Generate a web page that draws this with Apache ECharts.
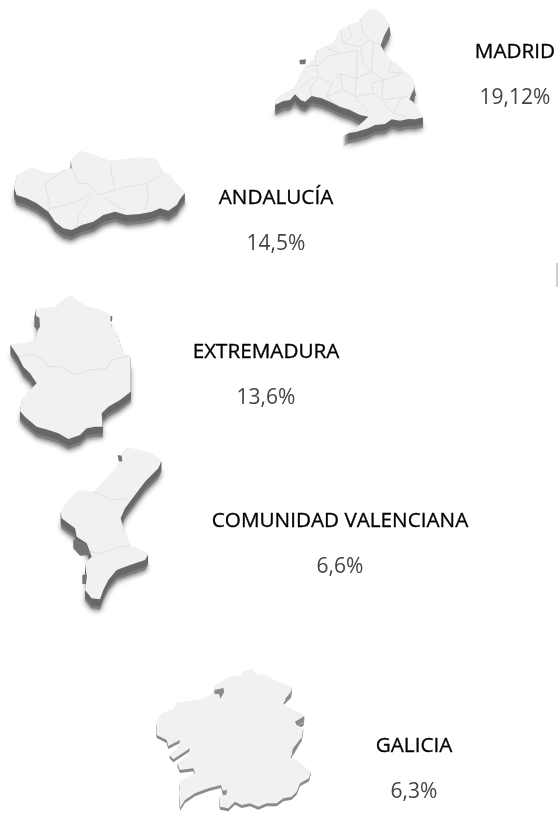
<!DOCTYPE html>
<html>
<head>
<meta charset="utf-8">
<style>html,body{margin:0;background:#fff}#chart{width:558px;height:813px;filter:blur(0.35px)}</style>
<script src="https://cdn.jsdelivr.net/npm/echarts@6/dist/echarts.min.js"></script>
</head>
<body>
<div id="chart"></div>
<script>
// values
const regionNames = ['MADRID', 'ANDALUCÍA', 'EXTREMADURA', 'COMUNIDAD VALENCIANA', 'GALICIA']
const percentages = [19.12, 14.5, 13.6, 6.6, 6.3]
const labelCenterX = [515, 276, 266, 340, 414]
const labelTop = [39, 185, 339, 508, 733]

// outlines traced on crops of the picture, px = origin + crop / 3
const madridOutline = [[45,315],[50,295],[70,280],[95,268],[112,250],[120,225],[135,200],[165,175],[170,150],[195,140],[225,125],[235,95],[265,75],[295,65],[310,45],[330,28],[350,28],[370,45],[385,70],[388,85],[375,110],[362,135],[375,160],[395,180],[415,195],[432,212],[450,225],[462,245],[463,270],[452,298],[470,320],[480,335],[490,352],[465,358],[445,357],[420,362],[395,358],[375,372],[345,375],[325,385],[290,395],[265,400],[248,408],[270,392],[295,378],[325,350],[300,345],[270,330],[240,320],[210,305],[185,295],[155,288],[135,305],[122,300],[105,283],[90,300],[70,303]]
const andaluciaOutline = [[42,143],[50,105],[70,95],[95,82],[130,95],[165,100],[190,90],[215,85],[212,60],[240,32],[270,40],[300,50],[330,62],[370,58],[420,52],[465,55],[478,72],[488,92],[510,105],[525,125],[545,145],[555,158],[540,178],[530,195],[505,212],[480,205],[455,215],[420,222],[380,225],[345,215],[310,225],[280,245],[245,255],[215,270],[190,265],[165,245],[145,215],[110,190],[80,175],[50,165]]
const extremaduraOutline = [[30,178],[70,175],[105,165],[115,130],[105,72],[165,65],[190,45],[212,30],[240,52],[265,65],[300,72],[330,90],[335,125],[355,150],[362,180],[370,205],[392,215],[392,320],[360,345],[325,365],[305,385],[308,425],[285,425],[260,430],[240,450],[205,462],[175,445],[145,435],[110,425],[75,395],[60,378],[65,345],[85,320],[110,295],[90,265],[70,245],[55,215]]
const valenciaOutline = [[230,22],[270,30],[305,40],[335,62],[325,85],[285,125],[255,165],[225,205],[212,235],[222,270],[240,315],[265,325],[295,343],[285,360],[240,375],[200,390],[175,420],[160,450],[150,478],[125,475],[105,450],[110,410],[105,370],[125,350],[110,310],[80,290],[75,265],[35,235],[32,215],[55,180],[85,150],[130,155],[170,115],[205,75],[215,40]]
const galiciaOutline = [[210,75],[225,68],[250,50],[285,45],[295,33],[325,28],[330,42],[360,45],[385,58],[415,70],[440,80],[438,105],[420,122],[415,130],[430,140],[445,150],[470,160],[478,170],[475,190],[455,195],[475,205],[470,235],[445,265],[437,295],[455,300],[480,320],[497,335],[492,355],[465,370],[455,395],[440,410],[415,415],[395,430],[365,430],[340,440],[315,430],[290,435],[270,425],[250,445],[225,440],[222,410],[235,400],[228,375],[190,385],[150,400],[120,420],[105,443],[102,400],[105,365],[150,340],[145,325],[105,330],[97,310],[130,285],[135,265],[85,298],[73,285],[100,262],[105,240],[70,258],[65,240],[35,225],[35,190],[50,160],[90,145],[95,128],[135,122],[170,118],[205,100]]

const madridBorders = [
    [[165,180],[175,230],[215,250],[240,220],[290,235],[335,215],[370,240],[430,220]],
    [[240,90],[250,130],[300,140],[330,120],[360,135]],
    [[215,250],[200,290],[240,320]],
    [[290,235],[285,290],[330,340]],
    [[370,240],[365,300],[400,340],[440,350]],
    [[190,140],[240,160],[290,150],[290,235]],
    [[120,260],[165,230]],
    [[335,215],[340,130]],
    [[300,55],[310,100],[330,120]],
    [[240,220],[250,270],[285,290],[340,280],[365,300],[440,290]],
    [[135,200],[180,195],[200,170],[240,160]],
    [[175,230],[150,265],[155,288]],
    [[200,290],[250,270]],
    [[300,140],[310,190],[335,215]],
    [[265,75],[275,110],[250,130]],
    [[340,280],[335,250],[370,240]],
    [[400,340],[420,300],[440,290],[462,270]],
    [[395,185],[385,215],[430,220]]
]
const andaluciaBorders = [
    [[145,215],[150,200],[143,165],[135,130],[165,110],[195,90]],
    [[150,205],[200,195],[240,180],[275,160]],
    [[230,265],[235,230],[255,195],[275,165]],
    [[215,85],[235,130],[265,130],[295,165],[330,155],[345,150]],
    [[330,62],[335,100],[345,150],[380,140],[440,130],[475,110],[488,92]],
    [[310,170],[330,185],[375,210]],
    [[440,130],[445,175],[435,210]]
]
const extremaduraBorders = [
    [[55,215],[95,208],[130,225],[145,245],[180,245],[225,268],[270,255],[320,250],[335,225],[375,215],[392,212]]
]
const valenciaBorders = [
    [[130,155],[165,170],[180,180],[215,178],[232,175]],
    [[120,335],[150,342],[180,330],[215,320],[240,318]]
]

// small dark wall pieces that show through the top face
const madridWalls = [[[388,78],[392,105],[378,135],[362,138],[372,108]],[[118,180],[138,178],[136,193],[120,193]],[[462,265],[468,285],[455,303],[448,298]]]
const extremaduraWalls = [[[103,90],[118,98],[120,125],[112,135],[103,125]],[[332,92],[337,94],[336,110],[332,108]]]
const valenciaWalls = [[[203,45],[215,47],[217,65],[206,63]],[[97,405],[110,403],[108,432],[97,432]],[[70,298],[110,312],[122,345],[90,347],[70,325]]]
const galiciaWalls = [[[208,90],[235,84],[238,96],[226,116],[222,102],[209,102]],[[420,118],[440,92],[438,108],[424,124]],[[450,185],[478,168],[476,188],[455,196]],[[443,268],[470,232],[468,245],[442,290]],[[232,392],[246,390],[244,404],[234,406]]]

const cropOrigins = [[260, 0], [0, 140], [0, 285], [50, 440], [145, 660]]
const outlines = [madridOutline, andaluciaOutline, extremaduraOutline, valenciaOutline, galiciaOutline]
const borders = [madridBorders, andaluciaBorders, extremaduraBorders, valenciaBorders, []]
const walls = [madridWalls, [], extremaduraWalls, valenciaWalls, galiciaWalls]

// crop coords -> map coords (lat grows upward, so y is negated)
function toMap(points, origin) {
    return points.map(p => [origin[0] + p[0] / 3, -(origin[1] + p[1] / 3)])
}
function closeRing(ring) {
    return ring.concat([ring[0]])
}
function polygonFeature(name, rings) {
    return {
        type: 'Feature',
        properties: { name },
        geometry: { type: 'MultiPolygon', coordinates: rings.map(r => [closeRing(r)]) }
    }
}

echarts.registerMap('regions', {
    type: 'FeatureCollection',
    features: regionNames.map((n, i) => polygonFeature(n, [toMap(outlines[i], cropOrigins[i])]))
})
echarts.registerMap('walls', {
    type: 'FeatureCollection',
    features: regionNames
        .map((n, i) => ({ n, rings: walls[i].map(w => toMap(w, cropOrigins[i])) }))
        .filter(d => d.rings.length)
        .map(d => polygonFeature(d.n, d.rings))
})

const pageBounds = [[0, 0], [558, -813]]
function geoLayer(map, offsetY, color, z, extra) {
    return Object.assign({
        map,
        silent: true,
        roam: false,
        aspectScale: 1,
        boundingCoords: pageBounds,
        left: 0,
        top: offsetY,
        width: 558,
        height: 813,
        z,
        label: { show: false },
        itemStyle: { areaColor: color, borderWidth: 0, borderColor: color },
        emphasis: { disabled: true }
    }, extra)
}

// Galicia's side wall is much thinner and paler than the others
const hideGalicia = [{ name: 'GALICIA', itemStyle: { areaColor: 'rgba(0,0,0,0)', borderWidth: 0, shadowBlur: 0 } }]
const paleGalicia = [{ name: 'GALICIA', itemStyle: { areaColor: '#8c8c8c', borderWidth: 0 } }]
const wallOffsets = [10, 9, 8, 7, 6, 5, 4, 3, 2, 1]
const geoLayers = [
    geoLayer('regions', 11, '#a8a8a8', 1, {
        itemStyle: { areaColor: '#a8a8a8', borderWidth: 0, shadowBlur: 5, shadowColor: 'rgba(0,0,0,0.5)', shadowOffsetY: 1 },
        regions: hideGalicia
    })
]
wallOffsets.forEach((off, i) => {
    geoLayers.push(geoLayer('regions', off, off > 7 ? '#7e7e7e' : '#686868', 2 + i, { regions: off > 3 ? hideGalicia : paleGalicia }))
})
geoLayers.push(geoLayer('regions', 0, '#f1f1f1', 13))
geoLayers.push(geoLayer('walls', 0, '#747474', 14, { regions: paleGalicia }))

const faceGeoIndex = geoLayers.length - 2
const borderLines = []
borders.forEach((list, i) => {
    list.forEach(line => borderLines.push({ coords: toMap(line, cropOrigins[i]) }))
})

const myChart = echarts.init(document.getElementById('chart'), null, { renderer: 'canvas' })
myChart.setOption({
    animation: false,
    backgroundColor: '#fff',
    title: regionNames.map((n, i) => ({
        text: n,
        subtext: String(percentages[i]).replace('.', ',') + '%',
        left: labelCenterX[i],
        top: labelTop[i],
        textAlign: 'center',
        itemGap: 20,
        padding: 0,
        textStyle: { fontFamily: 'Open Sans', fontSize: 20.7, fontWeight: 'normal', color: '#000', textBorderColor: '#000', textBorderWidth: 0.3, lineHeight: 26 },
        subtextStyle: { fontFamily: 'Open Sans', fontSize: 21, fontWeight: 'normal', color: '#444', lineHeight: 26 }
    })),
    geo: geoLayers,
    series: [
        {
            type: 'lines',
            coordinateSystem: 'geo',
            geoIndex: faceGeoIndex,
            polyline: true,
            silent: true,
            z: 15,
            lineStyle: { color: '#dadada', width: 0.7, opacity: 1 },
            data: borderLines
        }
    ],
    graphic: [
        { type: 'rect', shape: { x: 556, y: 263, width: 2, height: 24 }, style: { fill: '#cfcfcf' } }
    ]
})
</script>
</body>
</html>
